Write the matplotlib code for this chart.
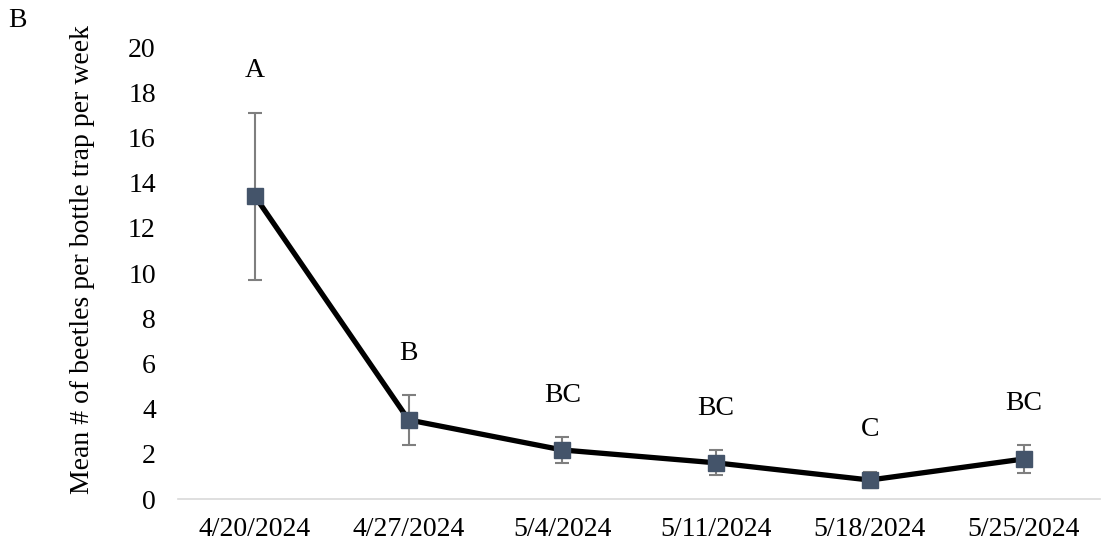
import numpy as np
import matplotlib.pyplot as plt

plt.rcParams['font.family'] = ['Liberation Serif', 'DejaVu Serif']

dates = ['4/20/2024', '4/27/2024', '5/4/2024', '5/11/2024', '5/18/2024', '5/25/2024']
means = [13.4, 3.5, 2.17, 1.6, 0.84, 1.77]
errs = [3.7, 1.1, 0.56, 0.55, 0.37, 0.6]
letters = ['A', 'B', 'BC', 'BC', 'C', 'BC']

x = np.arange(len(dates))

fig = plt.figure(figsize=(11.08, 5.48), dpi=100)
ax = fig.add_axes([0.1607, 0.0894, 0.8325, 0.8248])

ax.errorbar(x, means, yerr=errs, fmt='none', ecolor='#7f7f7f', elinewidth=1.5,
            capsize=5, capthick=1.5, zorder=2)
ax.plot(x, means, color='black', lw=3.8, zorder=3)
ax.plot(x, means, 's', color='#44546a', markersize=11.5, zorder=4)

for xi, m, e, lab in zip(x, means, errs, letters):
    ax.text(xi, m + e + 1.85, lab, ha='center', va='center', fontsize=20)

ax.set_xlim(-0.5, 5.5)
ax.set_ylim(0, 20)
ax.set_yticks(np.arange(0, 21, 2))
ax.set_xticks(x)
ax.set_xticklabels(dates)
ax.tick_params(axis='both', length=0, labelsize=20)
ax.tick_params(axis='y', pad=16)
ax.tick_params(axis='x', pad=13)
for s in ['top', 'right', 'left']:
    ax.spines[s].set_visible(False)
ax.spines['bottom'].set_color('#d9d9d9')
ax.spines['bottom'].set_linewidth(1.2)

ax.set_ylabel('Mean # of beetles per bottle trap per week', fontsize=20)
ax.yaxis.set_label_coords(-0.09, 0.53)
fig.text(0.007, 0.963, 'B', fontsize=20, ha='left', va='center')

fig.savefig('out.png', dpi=100)
